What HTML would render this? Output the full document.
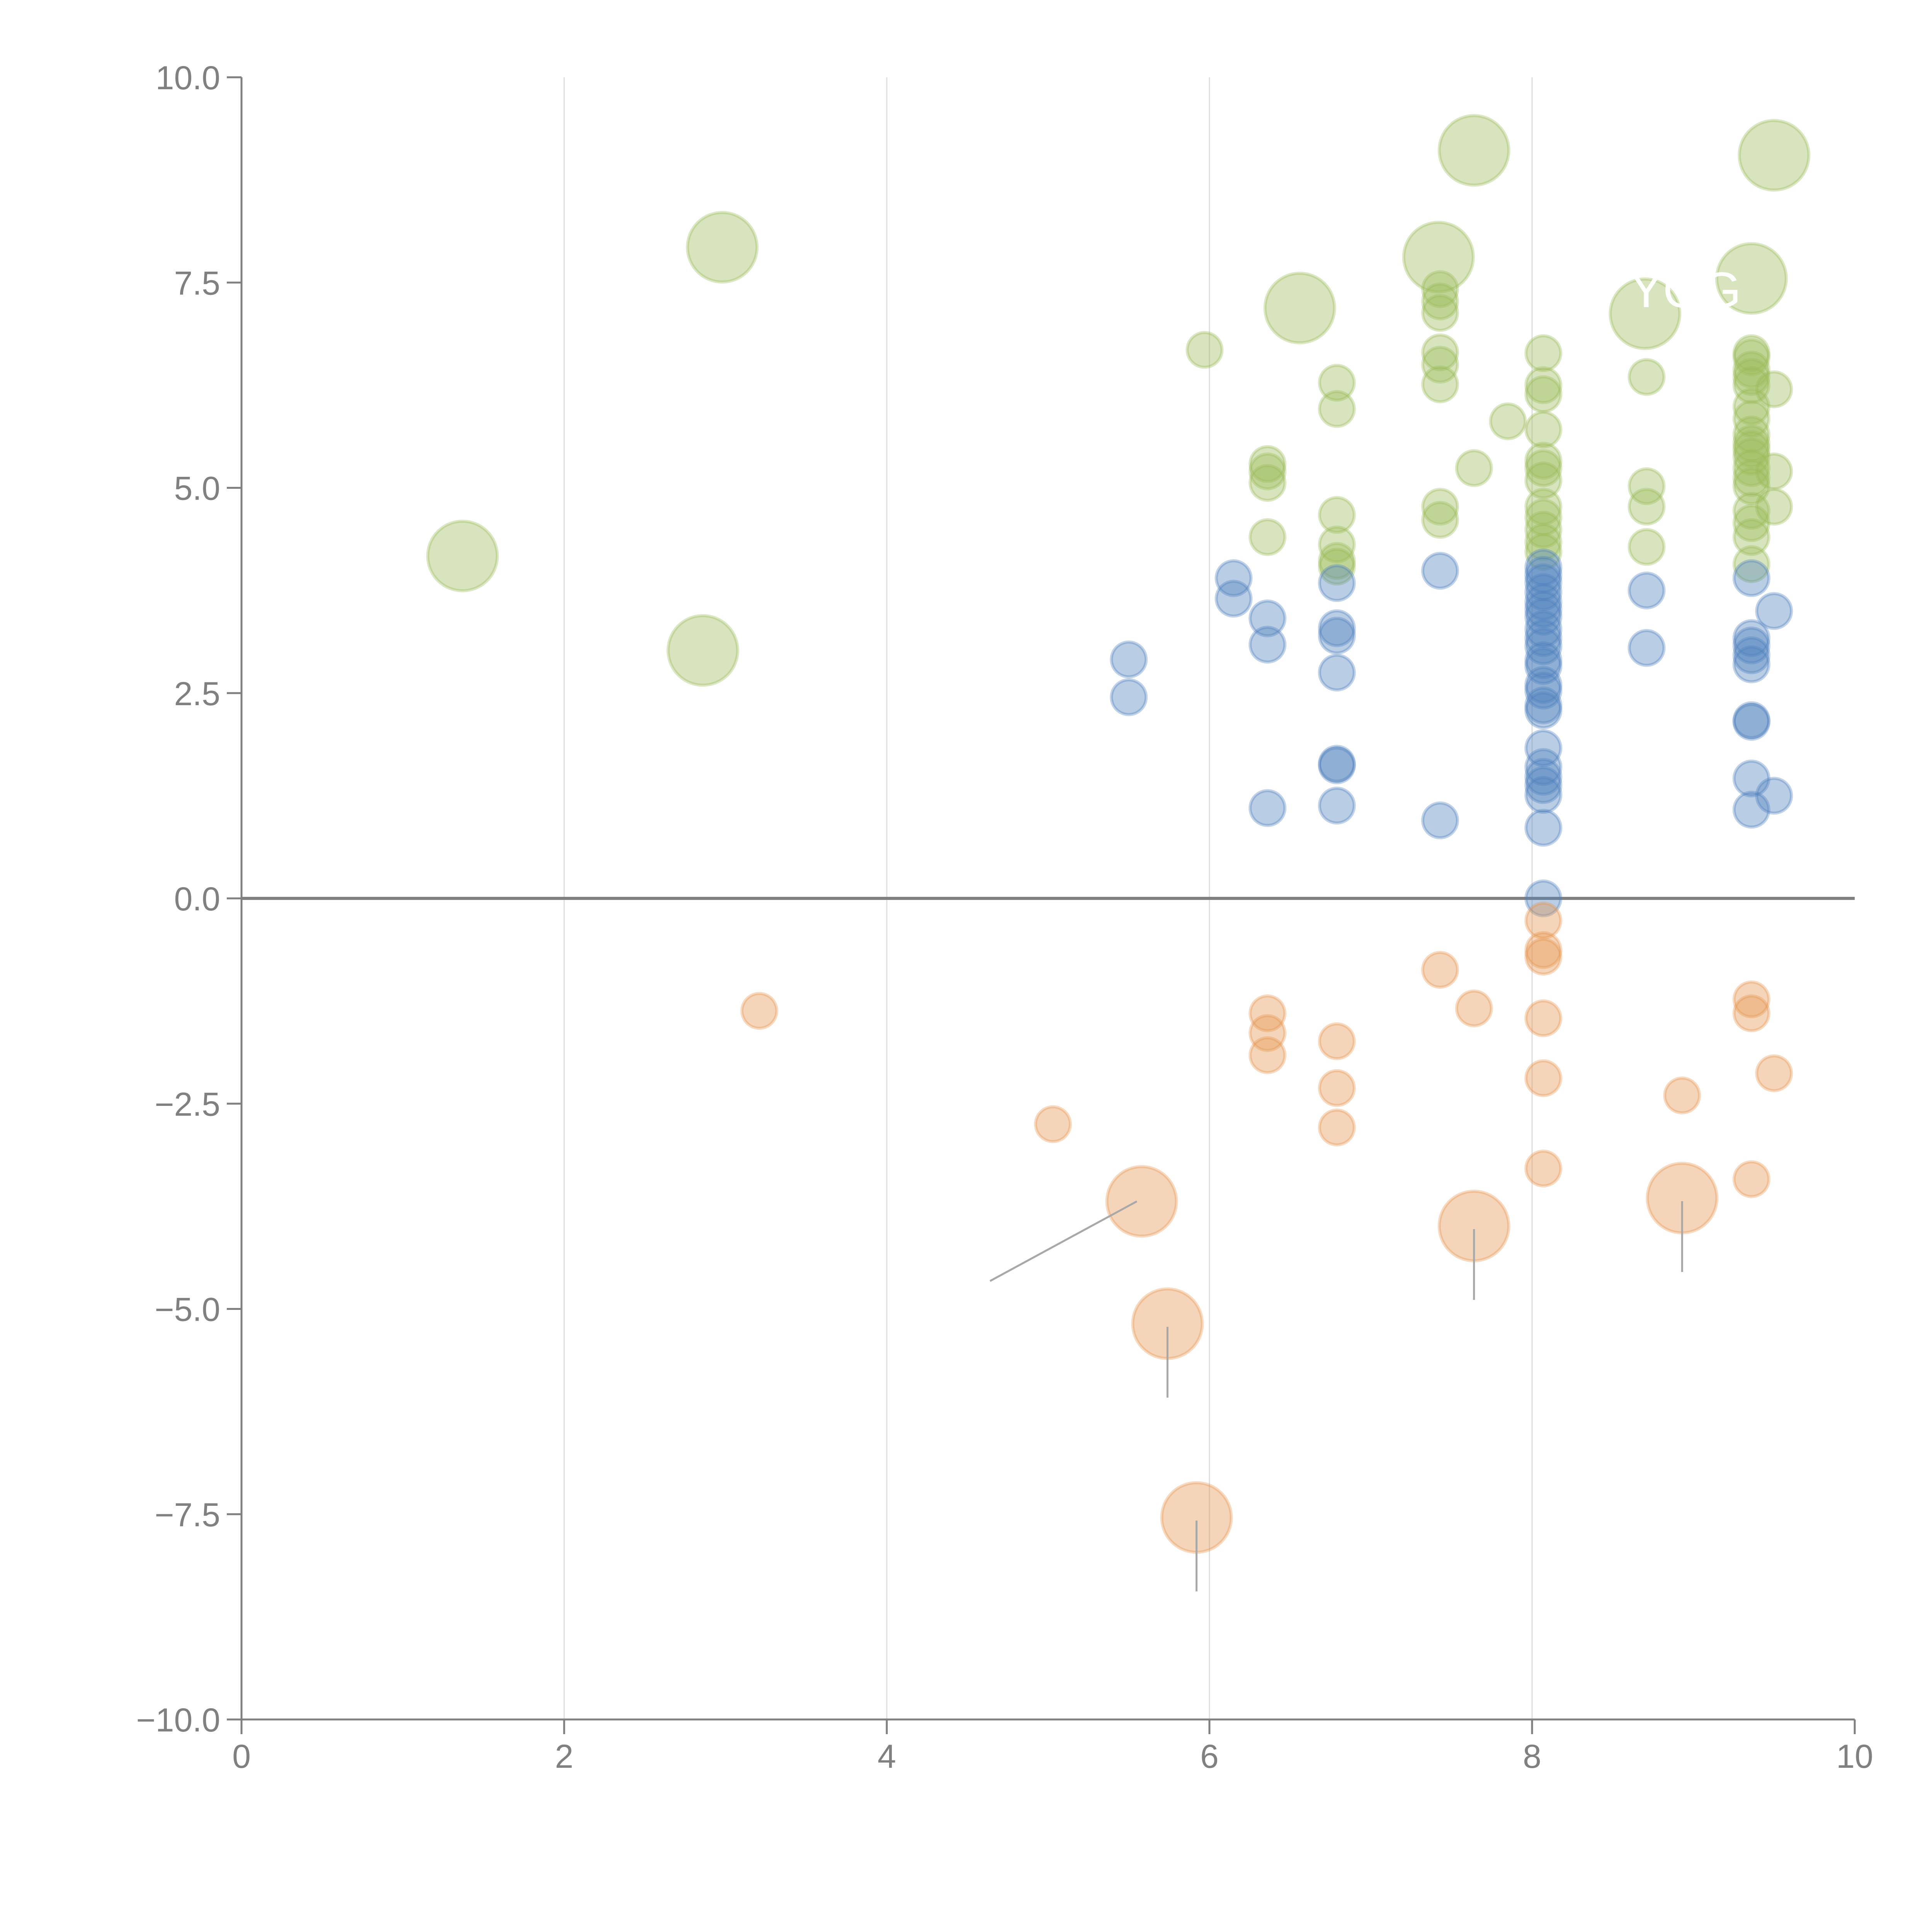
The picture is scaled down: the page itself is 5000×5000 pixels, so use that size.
<!DOCTYPE html>
<html><head><meta charset="utf-8"><style>
html,body{margin:0;padding:0;background:#fff;}
svg{display:block;font-family:"Liberation Sans",sans-serif;}
</style></head><body>
<svg id="chart" width="5000" height="5000" viewBox="0 0 5000 5000" xmlns="http://www.w3.org/2000/svg">
<rect width="5000" height="5000" fill="#fff"/>
<g id="grid"></g>
<g id="marks"></g>
<g id="axes"></g>
</svg>
<script>
const xTicks=[0,2,4,6,8,10];
const yTicks=[10,7.5,5,2.5,0,-2.5,-5,-7.5,-10];
const yTickLabels=["10.0","7.5","5.0","2.5","0.0","\u22122.5","\u22125.0","\u22127.5","\u221210.0"];
// green series
const greenX=[1.37,2.98,2.86,6.56,7.42,7.64,8.70,9.36,9.50,
5.97,6.36,6.36,6.36,6.36,6.79,6.79,6.79,6.79,6.79,6.79,
7.43,7.43,7.43,7.43,7.43,7.43,7.43,7.43,7.64,7.85,
8.07,8.07,8.07,8.07,8.07,8.07,8.07,8.07,8.07,8.07,8.07,8.07,
8.71,8.71,8.71,8.71,
9.36,9.36,9.36,9.36,9.36,9.36,9.36,9.36,9.36,9.36,9.36,9.36,9.36,9.36,9.36,9.36,9.36,9.36,
9.50,9.50,9.50];
const greenY=[4.17,7.93,3.02,7.19,7.81,9.11,7.12,7.55,9.05,
6.68,5.29,5.20,5.06,4.40,6.28,5.96,4.67,4.31,4.11,4.04,
7.42,7.27,7.13,6.65,6.50,6.26,4.77,4.61,5.24,5.81,
6.64,6.25,6.14,5.71,5.33,5.24,5.09,4.77,4.64,4.49,4.34,4.22,
6.35,5.02,4.77,4.28,
6.64,6.59,6.44,6.35,6.25,5.99,5.84,5.65,5.54,5.47,5.38,5.24,5.12,5.02,4.72,4.57,4.40,4.07,
6.20,5.20,4.77];
const greenSize=[2,2,2,2,2,2,2,2,2];
// blue series
const blueX=[5.50,5.50,6.15,6.15,6.36,6.36,6.36,6.79,6.79,6.79,6.79,6.79,6.79,6.79,7.43,7.43,
8.07,8.07,8.07,8.07,8.07,8.07,8.07,8.07,8.07,8.07,8.07,8.07,8.07,8.07,8.07,8.07,8.07,8.07,8.07,8.07,8.07,8.07,8.07,
8.71,8.71,9.36,9.36,9.36,9.36,9.36,9.36,9.36,9.36,9.36,9.50,9.50];
const blueY=[2.91,2.45,3.90,3.65,3.41,3.09,1.10,3.84,3.29,3.20,2.75,1.64,1.62,1.13,3.99,0.95,
4.03,3.94,3.85,3.73,3.61,3.52,3.43,3.28,3.17,3.07,2.90,2.83,2.60,2.53,2.35,2.29,1.83,1.60,1.48,1.38,1.26,0.86,0.00,
3.75,3.05,3.90,3.17,3.08,2.96,2.85,2.17,2.15,1.46,1.08,3.50,1.25];
// orange series
const orangeX=[3.21,5.03,6.36,6.36,6.36,6.79,6.79,6.79,7.43,7.64,8.07,8.07,8.07,8.07,8.07,8.07,8.93,9.36,9.36,9.36,9.50,
5.58,5.74,5.92,7.64,8.93];
const orangeY=[-1.37,-2.75,-1.40,-1.64,-1.91,-1.74,-2.31,-2.79,-0.87,-1.34,-0.27,-0.63,-0.71,-1.46,-2.19,-3.29,-2.40,-1.23,-1.40,-3.42,-2.13,
-3.69,-5.18,-7.54,-3.99,-3.65];
const greenBig=9, orangeBigStart=21;

const L=625,R=4800,T=200,B=4450;
const sx=v=>L+(v-0)/(10-0)*(R-L);
const sy=v=>B-(v-(-10))/20*(B-T);
const NS="http://www.w3.org/2000/svg";
function mk(tag,attrs,parent){const e=document.createElementNS(NS,tag);for(const k in attrs)e.setAttribute(k,attrs[k]);parent.appendChild(e);return e;}
const grid=document.getElementById('grid'),marks=document.getElementById('marks'),axes=document.getElementById('axes');
xTicks.forEach(t=>{if(t>0&&t<10){const l=mk('line',{x1:sx(t),x2:sx(t),y1:T,y2:B,stroke:'#dcdcdc','stroke-width':3},grid);

}});
const zl=mk('line',{x1:L,x2:R,y1:sy(0),y2:sy(0),stroke:'#808080','stroke-width':8},grid);



function bubbles(xs,ys,color,bigIdx,name,bigFrom){
  xs.forEach((x,i)=>{
    const big=bigFrom?(i>=bigIdx):(i<bigIdx);
    const c=mk('circle',{cx:sx(x),cy:sy(ys[i]),r:big?90:45,fill:color,'fill-opacity':0.4,stroke:color,'stroke-opacity':0.35,'stroke-width':8},marks);
    
    
  });
}
bubbles(greenX,greenY,'#9bbb59',greenBig,'green-bubble',false);
bubbles(blueX,blueY,'#4f81bd',0,'blue-bubble',false);
bubbles(orangeX,orangeY,'#e6964f',orangeBigStart,'orange-bubble',true);

// leader lines for large orange bubbles (offsets in data units)
const leadDX=[-0.94,0,0,0,0], leadDY=[-0.97,-0.9,-0.9,-0.9,-0.9];
for(let k=0;k<5;k++){const i=orangeBigStart+k;
  const l=mk('line',{x1:sx(orangeX[i]-(k==0?0.03:0)),y1:sy(orangeY[i])+(k==0?0:8),x2:sx(orangeX[i]+leadDX[k]),y2:sy(orangeY[i]+leadDY[k]),stroke:'#a8a8a8','stroke-width':5},marks);
  
  }
const lab=mk('text',{x:sx(8.95),y:sy(7.2),'font-size':130,fill:'#fff','text-anchor':'middle'},marks);
lab.textContent='YOG';



// axes
const ya=mk('line',{x1:L,x2:L,y1:T,y2:B,stroke:'#808080','stroke-width':5},axes);


const xa=mk('line',{x1:L,x2:R,y1:B,y2:B,stroke:'#808080','stroke-width':5},axes);


yTicks.forEach((t,i)=>{
  const tk=mk('line',{x1:L-38,x2:L,y1:sy(t),y2:sy(t),stroke:'#808080','stroke-width':5},axes);
  
  
  const tx=mk('text',{x:L-55,y:sy(t)+31,'font-size':86,fill:'#808080','text-anchor':'end'},axes);
  tx.textContent=yTickLabels[i];
  
  
});
xTicks.forEach(t=>{
  const tk=mk('line',{x1:sx(t),x2:sx(t),y1:B,y2:B+38,stroke:'#808080','stroke-width':5},axes);
  
  
  const tx=mk('text',{x:sx(t),y:B+125,'font-size':86,fill:'#808080','text-anchor':'middle'},axes);
  tx.textContent=String(t);
  
  
});
</script>
</body></html>
